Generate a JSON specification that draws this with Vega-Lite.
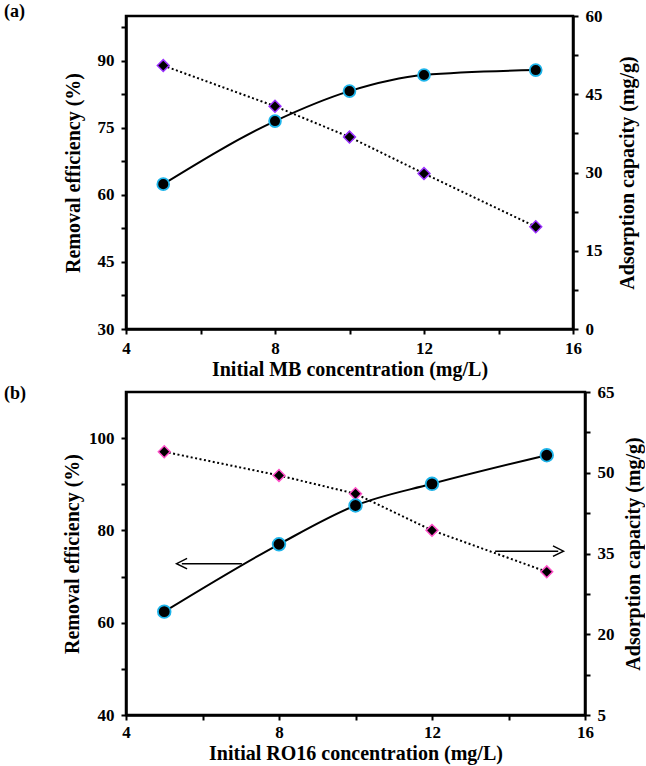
{
  "$schema": "https://vega.github.io/schema/vega-lite/v6.json",
  "background": "white",
  "padding": {"left": 2, "top": 1, "right": 0, "bottom": 0},
  "spacing": 0,
  "datasets": {
    "a": [
      {"c": 5, "re": 62.4, "ac": 50.5},
      {"c": 8, "re": 76.5, "ac": 42.7},
      {"c": 10, "re": 83.2, "ac": 36.8},
      {"c": 12, "re": 86.8, "ac": 29.8},
      {"c": 15, "re": 87.9, "ac": 19.6}
    ],
    "b": [
      {"c": 5, "re": 62.4, "ac": 53.9},
      {"c": 8, "re": 77.0, "ac": 49.5},
      {"c": 10, "re": 85.4, "ac": 46.1},
      {"c": 12, "re": 90.1, "ac": 39.3},
      {"c": 15, "re": 96.3, "ac": 31.6}
    ],
    "arrows": [
      {"xs": 7.03, "xe": 5.46, "y": 72.8, "dir": "left"},
      {"xs": 13.65, "xe": 15.3, "y": 75.5, "dir": "right"}
    ]
  },
  "config": {
    "font": "Liberation Serif, Times New Roman, serif",
    "view": {"stroke": "black", "strokeWidth": 2.5},
    "axis": {
      "grid": false,
      "labelFont": "Liberation Serif, Times New Roman, serif",
      "labelFontWeight": "bold",
      "labelFontSize": 17,
      "labelColor": "black",
      "titleFont": "Liberation Serif, Times New Roman, serif",
      "titleFontWeight": "bold",
      "titleFontSize": 20,
      "titleColor": "black",
      "domainColor": "black",
      "domainWidth": 2.5,
      "tickColor": "black",
      "tickWidth": 2,
      "tickSize": 5,
      "labelPadding": 7,
      "labelFlush": false,
      "labelOverlap": false
    },
    "title": {"font": "Liberation Serif, Times New Roman, serif", "fontSize": 18, "fontWeight": "bold", "color": "black"}
  },
  "vconcat": [
    {
      "title": {"text": "(a)", "anchor": "start", "frame": "group", "dx": -122, "offset": -14},
      "width": 447,
      "height": 313,
      "data": {"name": "a"},
      "encoding": {
        "x": {
          "field": "c", "type": "quantitative",
          "scale": {"domain": [4, 16], "nice": false},
          "axis": {"title": "Initial MB concentration (mg/L)", "values": [4, 6, 8, 10, 12, 14, 16],
                   "labelExpr": "datum.value % 4 == 0 ? datum.label : ''", "labelPadding": 6, "titlePadding": 3}
        }
      },
      "layer": [
        {
          "encoding": {
            "y": {"field": "ac", "type": "quantitative",
                  "scale": {"domain": [0, 60], "nice": false, "zero": false},
                  "axis": {"orient": "right", "title": "Adsorption capacity (mg/g)", "titleAngle": -90, "titleBaseline": "top",
                           "values": [0, 7.5, 15, 22.5, 30, 37.5, 45, 52.5, 60],
                           "labelExpr": "datum.value % 15 == 0 ? datum.label : ''", "titlePadding": 15}}
          },
          "layer": [
            {"mark": {"type": "line", "color": "black", "strokeWidth": 2, "strokeDash": [2, 2.5]}},
            {"mark": {"type": "point", "shape": "diamond", "filled": true, "fill": "black", "stroke": "#9b30ff", "strokeWidth": 1.5, "size": 140, "opacity": 1}}
          ]
        },
        {
          "encoding": {
            "y": {"field": "re", "type": "quantitative",
                  "scale": {"domain": [30, 100], "nice": false, "zero": false},
                  "axis": {"orient": "left", "title": "Removal efficiency (%)",
                           "values": [30, 37.5, 45, 52.5, 60, 67.5, 75, 82.5, 90, 97.5],
                           "labelExpr": "datum.value % 15 == 0 ? datum.label : ''", "titlePadding": 14}}
          },
          "layer": [
            {"mark": {"type": "line", "color": "black", "strokeWidth": 2, "interpolate": "monotone"}},
            {"mark": {"type": "point", "shape": "circle", "filled": true, "fill": "black", "stroke": "#1eb4ea", "strokeWidth": 1.8, "size": 140, "opacity": 1}}
          ]
        }
      ],
      "resolve": {"scale": {"y": "independent"}}
    },
    {
      "title": {"text": "(b)", "anchor": "start", "frame": "group", "dx": -122, "offset": -20},
      "width": 459,
      "height": 323,
      "encoding": {
        "x": {
          "field": "c", "type": "quantitative",
          "scale": {"domain": [4, 16], "nice": false},
          "axis": {"title": "Initial RO16 concentration (mg/L)", "values": [4, 6, 8, 10, 12, 14, 16],
                   "labelExpr": "datum.value % 4 == 0 ? datum.label : ''", "labelPadding": 4, "titlePadding": 3}
        }
      },
      "layer": [
        {
          "data": {"name": "b"},
          "encoding": {
            "y": {"field": "ac", "type": "quantitative",
                  "scale": {"domain": [5, 65], "nice": false, "zero": false},
                  "axis": {"orient": "right", "title": "Adsorption capacity (mg/g)", "titleAngle": -90, "titleBaseline": "top",
                           "values": [5, 12.5, 20, 27.5, 35, 42.5, 50, 57.5, 65],
                           "labelExpr": "(datum.value - 5) % 15 == 0 ? datum.label : ''", "titlePadding": 9}}
          },
          "layer": [
            {"mark": {"type": "line", "color": "black", "strokeWidth": 2, "strokeDash": [2, 2.5]}},
            {"mark": {"type": "point", "shape": "diamond", "filled": true, "fill": "black", "stroke": "#ff4fc8", "strokeWidth": 1.5, "size": 140, "opacity": 1}}
          ]
        },
        {
          "layer": [
            {
              "data": {"name": "b"},
              "mark": {"type": "line", "color": "black", "strokeWidth": 2, "interpolate": "monotone"},
              "encoding": {
                "y": {"field": "re", "type": "quantitative",
                      "scale": {"domain": [40, 110], "nice": false, "zero": false},
                      "axis": {"orient": "left", "title": "Removal efficiency (%)",
                               "values": [40, 50, 60, 70, 80, 90, 100],
                               "labelExpr": "datum.value % 20 == 0 ? datum.label : ''", "titlePadding": 6}}
              }
            },
            {
              "data": {"name": "b"},
              "mark": {"type": "point", "shape": "circle", "filled": true, "fill": "black", "stroke": "#1eb4ea", "strokeWidth": 1.8, "size": 160, "opacity": 1},
              "encoding": {"y": {"field": "re", "type": "quantitative"}}
            },
            {
              "data": {"name": "arrows"},
              "mark": {"type": "rule", "color": "black", "strokeWidth": 1.5},
              "encoding": {
                "x": {"field": "xs", "type": "quantitative"},
                "x2": {"field": "xe"},
                "y": {"field": "y", "type": "quantitative"}
              }
            },
            {
              "data": {"name": "arrows"},
              "mark": {"type": "point", "filled": false, "stroke": "black", "strokeWidth": 1.5, "size": 110, "opacity": 1},
              "encoding": {
                "x": {"field": "xe", "type": "quantitative"},
                "y": {"field": "y", "type": "quantitative"},
                "shape": {"field": "dir", "type": "nominal", "legend": null,
                          "scale": {"domain": ["left", "right"], "range": ["M 1 -1 L -1 0 L 1 1", "M -1 -1 L 1 0 L -1 1"]}}
              }
            }
          ]
        }
      ],
      "resolve": {"scale": {"y": "independent"}}
    }
  ]
}
